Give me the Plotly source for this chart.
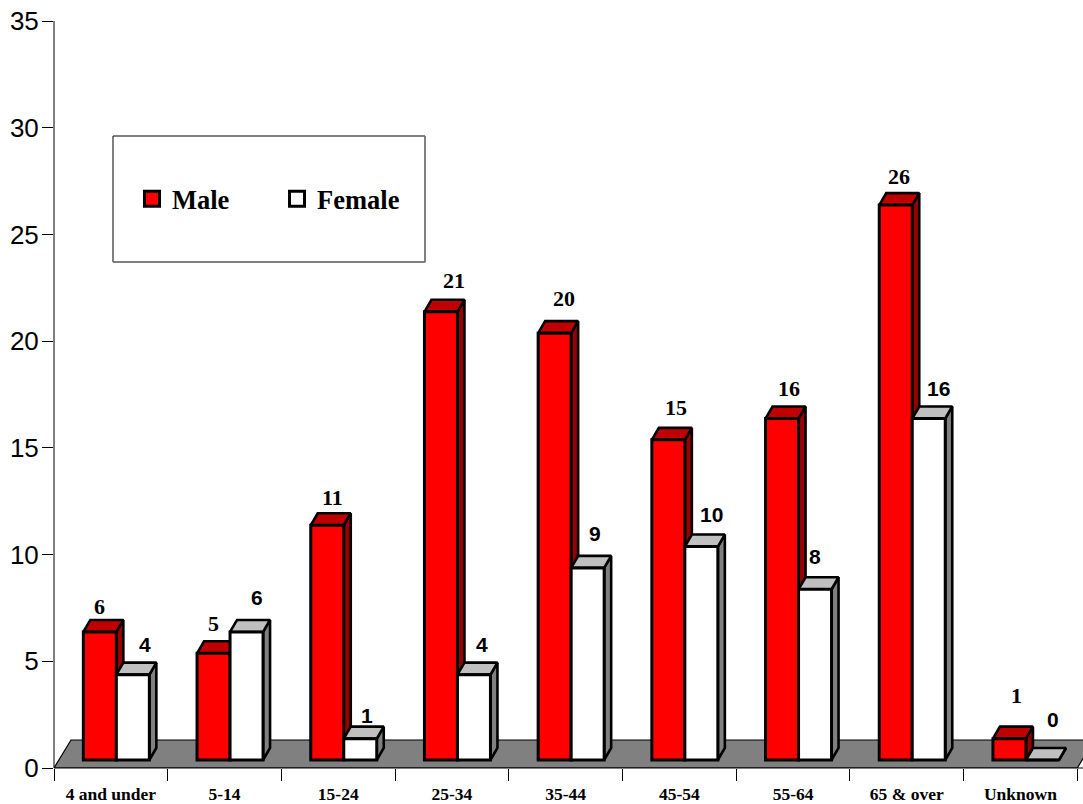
import plotly.graph_objects as go

categories = ["4 and under", "5-14", "15-24", "25-34", "35-44", "45-54", "55-64", "65 &amp; over", "Unknown"]
male = [6, 5, 11, 21, 20, 15, 16, 26, 1]
female = [4, 6, 1, 4, 9, 10, 8, 16, 0]

# label nudges in pixels (hand placed labels of the original)
male_dx = [0, 0, 5, 13, 9, 8, 7, 3, 7]
male_dy = [13, 18, 16, 19, 23, 20, 18, 17, 31]
female_dx = [12, 10, 7, 8, 7, 10, 0, 10, 11]
female_dy = [18, 22, 11, 18, 22, 20, 21, 18, 29]

W, H = 1083, 804
L, T, B = 54, 21, 36
cat_px = 113.7
plot_w = W - L
plot_h = H - T - B
x_max = plot_w / cat_px
unit_px = plot_h / 35

depth_x = 7 / cat_px
depth_y = 12 / unit_px
shift_x = 5.5 / cat_px
base = 8 / unit_px
floor_x = 17 / cat_px
floor_y = 28 / unit_px
bar_w = 33 / cat_px
n = len(categories)
centers = [i + 0.5 + shift_x for i in range(n)]


def side_xy(values, off):
    xs, ys = [], []
    for c, v in zip(centers, values):
        r = c + off + bar_w / 2
        xs += [r, r + depth_x, r + depth_x, r, r, None]
        ys += [base, base + depth_y, base + v + depth_y, base + v, base, None]
    return xs, ys


def top_xy(values, off):
    xs, ys = [], []
    for c, v in zip(centers, values):
        l = c + off - bar_w / 2
        r = c + off + bar_w / 2
        t = base + v
        xs += [l, l + depth_x, r + depth_x, r, l, None]
        ys += [t, t + depth_y, t + depth_y, t, t, None]
    return xs, ys


def face(xy, color, z):
    return go.Scatter(x=xy[0], y=xy[1], mode="lines", fill="toself", fillcolor=color,
                      line=dict(color="black", width=2.6), showlegend=False,
                      hoverinfo="skip", zorder=z)


fig = go.Figure()

fig.add_trace(go.Scatter(
    x=[0, 9, 9 + floor_x, floor_x, 0], y=[0, 0, floor_y, floor_y, 0],
    mode="lines", fill="toself", fillcolor="#808080",
    line=dict(color="black", width=1.2), showlegend=False, hoverinfo="skip", zorder=0))

off = bar_w / 2
fig.add_trace(face(side_xy(male, -off), "#990000", 1))
fig.add_trace(face(top_xy(male, -off), "#c00000", 1))
fig.add_trace(go.Bar(name="Male", x=centers, y=male, base=[base] * n, showlegend=False,
                     marker=dict(color="#ff0000", line=dict(color="black", width=3)), zorder=2))
fig.add_trace(face(side_xy(female, off), "#808080", 3))
fig.add_trace(face(top_xy(female, off), "#c0c0c0", 3))
fig.add_trace(go.Bar(name="Female", x=centers, y=female, base=[base] * n, showlegend=False,
                     marker=dict(color="#ffffff", line=dict(color="black", width=3)), zorder=4))

# legend entries
for name, color in (("Male", "#ff0000"), ("Female", "#ffffff")):
    fig.add_trace(go.Scatter(x=[None], y=[None], mode="markers", name=name,
                             marker=dict(symbol="square", size=15, color=color,
                                         line=dict(color="black", width=3))))

for i in range(n):
    fig.add_annotation(x=centers[i] - off, y=base + male[i] + depth_y, text=str(male[i]),
                       xref="x", yref="y", showarrow=False, xshift=male_dx[i], yshift=male_dy[i],
                       font=dict(family="Liberation Serif", size=22, color="black", weight="bold"))
    fig.add_annotation(x=centers[i] + off, y=base + female[i] + depth_y, text=str(female[i]),
                       xref="x", yref="y", showarrow=False, xshift=female_dx[i], yshift=female_dy[i],
                       font=dict(family="Liberation Sans", size=21, color="black", weight="bold"))


def px(x):
    return (x - L) / plot_w


def py(y):
    return 1 - (y - T) / plot_h


fig.add_shape(type="rect", xref="paper", yref="paper", x0=px(113), x1=px(425), y0=py(262), y1=py(136),
              fillcolor="white", line=dict(color="black", width=1))
fig.add_shape(type="line", xref="paper", yref="paper", x0=px(113), x1=px(425.5), y0=py(262), y1=py(262),
              line=dict(color="#808080", width=1.5))
fig.add_shape(type="line", xref="paper", yref="paper", x0=px(425), x1=px(425), y0=py(136), y1=py(262),
              line=dict(color="#808080", width=1.5))
# axis lines, kept above the layered bars
fig.add_shape(type="line", xref="paper", yref="paper", x0=0, x1=0, y0=0, y1=1,
              line=dict(color="black", width=1))
fig.add_shape(type="line", xref="paper", yref="paper", x0=0, x1=1, y0=0, y1=0,
              line=dict(color="black", width=1))

fig.update_layout(
    width=W, height=H, autosize=False,
    margin=dict(l=L, r=0, t=T, b=B, autoexpand=False),
    paper_bgcolor="white", plot_bgcolor="rgba(0,0,0,0)",
    barmode="group", bargap=1 - 2 * bar_w, bargroupgap=0,
    legend=dict(orientation="h", x=px(132), y=py(199), xanchor="left", yanchor="middle",
                bgcolor="rgba(0,0,0,0)", borderwidth=0, entrywidth=100, entrywidthmode="pixels",
                font=dict(family="Liberation Serif", size=26.5, color="black", weight="bold"),
                itemsizing="trace", itemclick=False, itemdoubleclick=False),
    xaxis=dict(
        range=[0, x_max], showgrid=False, zeroline=False, showline=True, linecolor="black", linewidth=1,
        tickmode="array", tickvals=[i + 0.5 for i in range(n)], ticktext=categories,
        ticks="outside", ticklen=10, tickcolor="rgba(0,0,0,0)", tickwidth=1,
        tickfont=dict(family="Liberation Serif", size=17.5, color="black", weight="bold"),
        minor=dict(tickmode="array", tickvals=list(range(n + 1)), ticks="outside", ticklen=12,
                   tickcolor="black", tickwidth=1, showgrid=False),
    ),
    yaxis=dict(
        range=[0, 35], showgrid=False, zeroline=False, showline=True, linecolor="black", linewidth=1,
        tickmode="array", tickvals=list(range(0, 36, 5)),
        ticks="outside", ticklen=11, ticklabelstandoff=-2, tickcolor="black", tickwidth=1,
        tickfont=dict(family="Liberation Sans", size=26, color="black"),
    ),
)

fig.write_html("out.html", config=dict(displayModeBar=False),
               post_script="document.body.style.margin='0';document.documentElement.style.overflow='hidden';")
